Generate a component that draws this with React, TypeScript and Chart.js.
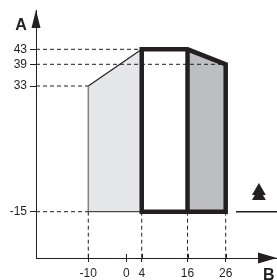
import React, { useEffect, useRef } from 'react';
import { Chart, LinearScale, registerables } from 'chart.js';

// ---- data ----
const X_TICKS = [-10, 0, 4, 16, 26];
const Y_TICKS = [43, 39, 33, -15];
const BASE = -15;
const LIGHT_X = [-10, 4];
const LIGHT_TOP = [33, 43];
const CORE_X = [4, 16];
const CORE_TOP = [43, 43];
const DARK_X = [16, 26];
const DARK_TOP = [43, 39];
const H_GUIDE_Y = [43, 39, 33, -15];
const H_GUIDE_END = [4, 26, -10, -10];
const V_GUIDE_X = [-10, 4, 16, 26];
const RIGHT_LINE_X = [28.7, 39.44];
const MARKER_X = [34.7, 34.7];
const MARKER_Y = [-7.1, -9.0];

const X_MIN = -23.7;
const X_MAX = 39.44;
const Y_MIN = -32.7;
const Y_MAX = 53.5;

// schematic (non-uniform) vertical axis: value knots -> fraction of axis height
const Y_KNOTS = [Y_MIN, -15, 33, 39, 43, Y_MAX];
const Y_FRACS = [0, 0.1867, 0.6935, 0.781, 0.8415, 1];

const INK = '#231f20';
const FONT = '"Liberation Sans", Arial, Helvetica, sans-serif';

function interp(v: number, xs: number[], ys: number[]) {
  const n = xs.length;
  let i = 0;
  if (v <= xs[0]) i = 0;
  else if (v >= xs[n - 1]) i = n - 2;
  else {
    while (i < n - 2 && v > xs[i + 1]) i++;
  }
  const t = (v - xs[i]) / (xs[i + 1] - xs[i]);
  return ys[i] + t * (ys[i + 1] - ys[i]);
}

class BrokenScale extends LinearScale {
  static id = 'broken';
  static defaults = LinearScale.defaults;
  getPixelForValue(value: number) {
    const f = interp(value, Y_KNOTS, Y_FRACS);
    return this.bottom - f * (this.bottom - this.top);
  }
  getValueForPixel(pixel: number) {
    const f = (this.bottom - pixel) / (this.bottom - this.top);
    return interp(f, Y_FRACS, Y_KNOTS);
  }
}

Chart.register(...registerables, BrokenScale);

const pts = (xs: number[], ys: number[]) => xs.map((x, i) => ({ x, y: ys[i] }));

const decor = {
  id: 'decor',
  afterDraw(chart: any) {
    const { ctx, chartArea: a, scales } = chart;
    ctx.save();
    ctx.fillStyle = INK;
    ctx.strokeStyle = INK;
    // y arrow
    ctx.beginPath();
    ctx.moveTo(a.left, a.top);
    ctx.lineTo(a.left - 4.5, a.top + 18);
    ctx.lineTo(a.left + 4.5, a.top + 18);
    ctx.closePath();
    ctx.fill();
    // x arrow
    ctx.beginPath();
    ctx.moveTo(a.right, a.bottom);
    ctx.lineTo(a.right - 19, a.bottom - 5.5);
    ctx.lineTo(a.right - 19, a.bottom + 5.5);
    ctx.closePath();
    ctx.fill();
    // inner half of x tick marks
    ctx.lineWidth = 1;
    X_TICKS.forEach((v) => {
      const px = Math.round(scales.x.getPixelForValue(v)) + 0.5;
      ctx.beginPath();
      ctx.moveTo(px, a.bottom - 4);
      ctx.lineTo(px, a.bottom);
      ctx.stroke();
    });
    // axis names
    ctx.font = 'bold 16px ' + FONT;
    ctx.textBaseline = 'alphabetic';
    ctx.textAlign = 'center';
    ctx.fillText('A', a.left - 15, a.top + 20);
    ctx.textAlign = 'left';
    ctx.fillText('B', a.right - 14, a.bottom + 21.5);
    ctx.restore();
  },
};

export default function App() {
  const ref = useRef<HTMLCanvasElement>(null);
  useEffect(() => {
    if (!ref.current) return;
    const line = (data: any[], extra: any) => ({
      data,
      pointRadius: 0,
      tension: 0,
      fill: false,
      borderColor: INK,
      borderWidth: 1,
      ...extra,
    });
    const datasets: any[] = [];
    // thick outline of the white + dark zones
    datasets.push(
      line(
        [
          { x: CORE_X[0], y: BASE },
          ...pts(CORE_X, CORE_TOP),
          { x: DARK_X[1], y: DARK_TOP[1] },
          { x: DARK_X[1], y: BASE },
          { x: CORE_X[0], y: BASE },
        ],
        { borderWidth: 4.5, borderJoinStyle: 'miter', borderCapStyle: 'square', order: 1 }
      )
    );
    datasets.push(
      line([{ x: DARK_X[0], y: DARK_TOP[0] }, { x: DARK_X[0], y: BASE }], {
        borderWidth: 4.5,
        borderCapStyle: 'butt',
        order: 1,
      })
    );
    // right solid line
    datasets.push(
      line(pts(RIGHT_LINE_X, [BASE, BASE]), { borderWidth: 1.5, order: 2 })
    );
    // double arrow marker
    datasets.push({
      data: pts(MARKER_X, MARKER_Y),
      showLine: false,
      pointStyle: 'triangle',
      pointRadius: 8,
      pointBackgroundColor: INK,
      pointBorderWidth: 0,
      order: 2,
    });
    // dashed guides
    H_GUIDE_Y.forEach((y, i) => {
      datasets.push(
        line([{ x: X_MIN, y }, { x: H_GUIDE_END[i], y }], { borderDash: [4, 3], order: 3 })
      );
    });
    V_GUIDE_X.forEach((x) => {
      datasets.push(
        line([{ x, y: BASE }, { x, y: Y_MIN }], { borderDash: [4, 3], order: 3 })
      );
    });
    // light zone edges
    datasets.push(
      line([{ x: LIGHT_X[0], y: BASE }, { x: LIGHT_X[0], y: LIGHT_TOP[0] }], {
        borderColor: '#808285',
        borderWidth: 1.5,
        order: 4,
      })
    );
    datasets.push(
      line(pts(LIGHT_X, [BASE, BASE]), { borderWidth: 1, order: 4 })
    );
    // fills
    datasets.push(
      line(pts(LIGHT_X, LIGHT_TOP), {
        fill: { value: BASE },
        backgroundColor: '#e6e7e8',
        borderWidth: 1.2,
        order: 5,
      })
    );
    datasets.push(
      line(pts(DARK_X, DARK_TOP), {
        fill: { value: BASE },
        backgroundColor: '#bcbec0',
        borderWidth: 0,
        order: 5,
      })
    );

    const chart = new Chart(ref.current, {
      type: 'line',
      data: { datasets },
      plugins: [decor],
      options: {
        responsive: false,
        maintainAspectRatio: false,
        devicePixelRatio: 1,
        animation: false,
        events: [],
        layout: { autoPadding: false, padding: { top: 10, left: 0, right: 0, bottom: 0 } },
        plugins: { legend: { display: false }, tooltip: { enabled: false } },
        scales: {
          x: {
            type: 'linear',
            min: X_MIN,
            max: X_MAX,
            afterBuildTicks: (s: any) => {
              s.ticks = X_TICKS.map((value) => ({ value }));
            },
            afterFit: (s: any) => {
              s.height = 22;
              s.paddingLeft = 0;
              s.paddingRight = 0;
            },
            grid: { drawOnChartArea: false, drawTicks: true, tickLength: 4, color: INK, lineWidth: 1 },
            border: { display: true, color: INK, width: 1 },
            ticks: {
              autoSkip: false,
              maxRotation: 0,
              padding: 4,
              color: INK,
              font: { family: FONT, size: 12 },
              callback: (v: any) => String(v),
            },
          },
          y: {
            type: 'broken' as any,
            min: Y_MIN,
            max: Y_MAX,
            afterBuildTicks: (s: any) => {
              s.ticks = Y_TICKS.map((value) => ({ value }));
            },
            afterFit: (s: any) => {
              s.width = 36;
              s.paddingTop = 0;
              s.paddingBottom = 0;
            },
            grid: { drawOnChartArea: false, drawTicks: true, tickLength: 6, color: INK, lineWidth: 1 },
            border: { display: true, color: INK, width: 1 },
            ticks: {
              autoSkip: false,
              padding: 3,
              color: INK,
              font: { family: FONT, size: 12 },
              callback: (v: any) => String(v),
            },
          },
        },
      } as any,
    });
    return () => chart.destroy();
  }, []);
  return (
    <canvas
      ref={ref}
      width={277}
      height={280}
      style={{ position: 'fixed', left: 0, top: 0, width: 277, height: 280 }}
    />
  );
}
